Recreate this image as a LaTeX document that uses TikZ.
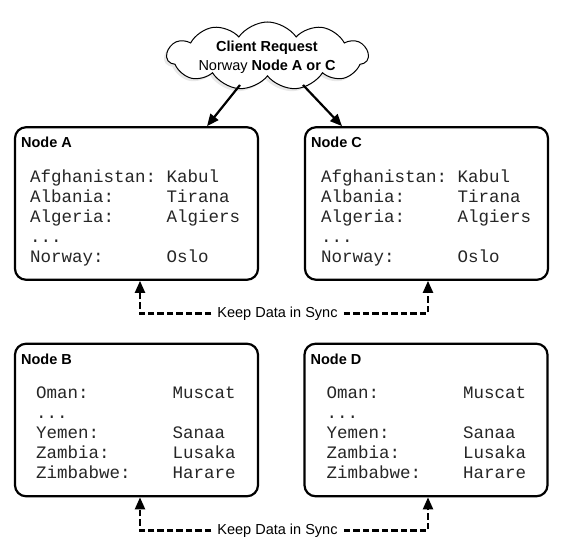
\documentclass[tikz,border=0pt]{standalone}
\usepackage{fontspec}
\setmainfont{Liberation Sans}
\newfontfamily\monof{Liberation Mono}
\usetikzlibrary{shapes.symbols,arrows.meta,shadows}
\tikzset{
  box/.style={draw, line width=2.2bp, rounded corners=11bp, minimum width=243bp,
    minimum height=152.5bp, inner sep=0pt, fill=white},
  ttl/.style={font=\fontsize{14.5bp}{17bp}\selectfont\bfseries, anchor=base west, inner sep=0pt},
  tbl/.style={font=\monof\fontsize{17.5bp}{20bp}\selectfont, anchor=base west, inner sep=0pt, text=black!85},
  lbl/.style={font=\fontsize{14.5bp}{17bp}\selectfont, inner xsep=6bp, inner ysep=0pt},
  arr/.style={line width=2.2bp, -{Triangle[length=12bp,width=10bp]}},
  sync/.style={arr, dash pattern=on 6.5bp off 3bp},
  cloudy/.style={cloud, cloud puffs=11, cloud puff arc=110, cloud ignores aspect,
    minimum width=201bp, minimum height=68bp, inner sep=0pt, draw, line width=1bp, fill=white,
    drop shadow={shadow xshift=-2.5bp, shadow yshift=-2.5bp, opacity=0.18}},
}
\begin{document}
\begin{tikzpicture}[x=1bp,y=-1bp]
\fill[white] (0,0) rectangle (562,559);
\useasboundingbox (0,0) rectangle (562,559);

% cloud
\node[cloudy] (req) at (267.5,56) {};
\node[font=\fontsize{14.5bp}{19bp}\selectfont, align=center, inner sep=0pt] (rqt) at (267,57.5)
  {\textbf{Client Request}\\Norway \textbf{Node A or C}};

% boxes
\node[box] (A) at (136.5,203.5) {};
\node[box] (C) at (426.5,203.5) {};
\node[box] (B) at (136.5,420) {};
\node[box] (D) at (426,420) {};

\node[ttl] (tA) at ([xshift=7bp,yshift=-21.5bp]A.north west) {Node A};
\node[ttl] (tC) at ([xshift=7bp,yshift=-21.5bp]C.north west) {Node C};
\node[ttl] (tB) at ([xshift=7bp,yshift=-21.5bp]B.north west) {Node B};
\node[ttl] (tD) at ([xshift=7bp,yshift=-21.5bp]D.north west) {Node D};

\node[tbl] (dA) at ([xshift=16bp,yshift=-56bp]A.north west)
  {\begin{tabular}[t]{@{}p{136.5bp}@{}l@{}}
   Afghanistan: & Kabul\\ Albania: & Tirana\\ Algeria: & Algiers\\ ... & \\ Norway: & Oslo
   \end{tabular}};
\node[tbl] (dC) at ([xshift=17bp,yshift=-56bp]C.north west)
  {\begin{tabular}[t]{@{}p{136.5bp}@{}l@{}}
   Afghanistan: & Kabul\\ Albania: & Tirana\\ Algeria: & Algiers\\ ... & \\ Norway: & Oslo
   \end{tabular}};
\node[tbl] (dB) at ([xshift=22bp,yshift=-56bp]B.north west)
  {\begin{tabular}[t]{@{}p{136.5bp}@{}l@{}}
   Oman: & Muscat\\ ... & \\ Yemen: & Sanaa\\ Zambia: & Lusaka\\ Zimbabwe: & Harare
   \end{tabular}};
\node[tbl] (dD) at ([xshift=23bp,yshift=-56bp]D.north west)
  {\begin{tabular}[t]{@{}p{136.5bp}@{}l@{}}
   Oman: & Muscat\\ ... & \\ Yemen: & Sanaa\\ Zambia: & Lusaka\\ Zimbabwe: & Harare
   \end{tabular}};

% request arrows
\draw[arr] ([xshift=-27.5bp,yshift=-29bp]req.center) -- ([xshift=70.5bp]A.north);
\draw[arr] ([xshift=35.5bp,yshift=-29bp]req.center) -- ([xshift=-84.5bp]C.north);

% sync labels and arrows
\node[lbl] (s1) at (277.5,313.5) {Keep Data in Sync};
\node[lbl] (s2) at (277.5,530.5) {Keep Data in Sync};
\draw[sync] (s1.west) -| ([xshift=3.5bp]A.south);
\draw[sync] (s1.east) -| ([xshift=1.5bp]C.south);
\draw[sync] (s2.west) -| ([xshift=3.5bp]B.south);
\draw[sync] (s2.east) -| ([xshift=2bp]D.south);
\end{tikzpicture}
\end{document}
